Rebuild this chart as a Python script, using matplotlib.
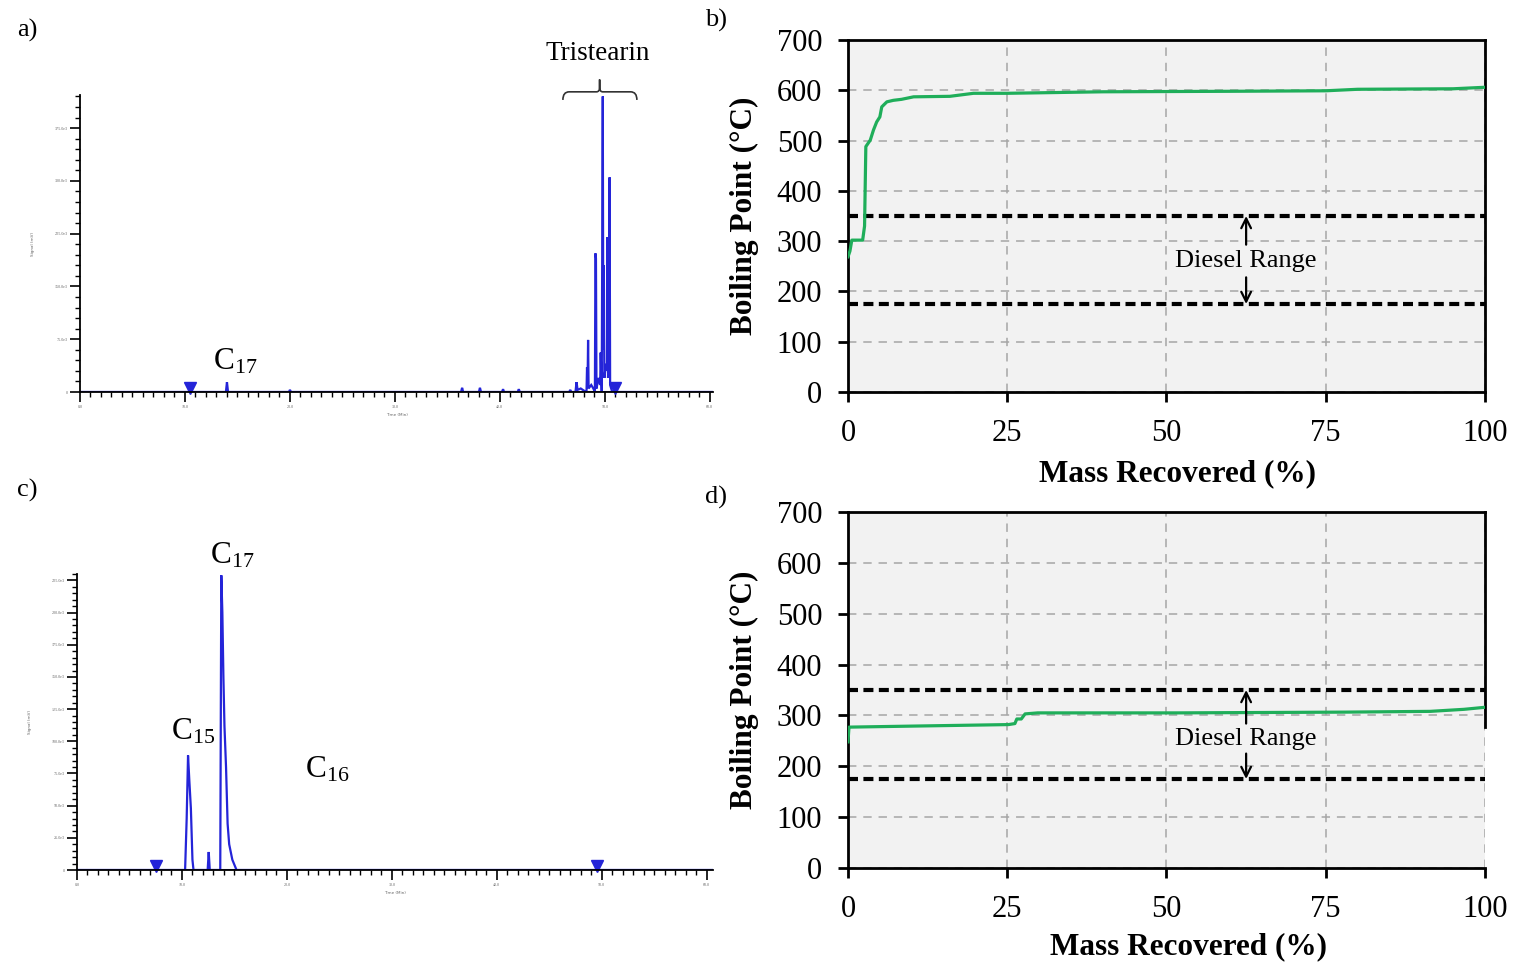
import matplotlib
matplotlib.use("Agg")
import matplotlib.pyplot as plt
from matplotlib.path import Path
from matplotlib.patches import PathPatch
from matplotlib.ticker import MultipleLocator, FuncFormatter

plt.rcParams["font.family"] = ["Liberation Serif", "DejaVu Serif"]
plt.rcParams["mathtext.fontset"] = "custom"
plt.rcParams["mathtext.rm"] = "Liberation Serif"
plt.rcParams["mathtext.it"] = "Liberation Serif:italic"

# ---------------- data ----------------
# a) GC trace of the feed (time in min, signal in thousands)
feed_time = [0, 13.9, 14.0, 14.1, 19.9, 20.0, 20.1, 36.3, 36.4, 36.5, 38.0, 38.1, 38.2,
             40.2, 40.3, 40.4, 41.7, 41.8, 41.9, 46.6, 46.7, 46.8, 47.2, 47.3, 47.4, 47.7,
             48.0, 48.25, 48.3, 48.35, 48.4, 48.45, 48.7, 48.9, 49.05, 49.1, 49.15, 49.2,
             49.4, 49.55, 49.6, 49.7, 49.8, 49.85, 49.9, 49.95, 50.1, 50.2, 50.25, 50.3,
             50.35, 50.45, 50.5, 50.7, 60.3]
feed_signal = [0, 0, 14, 0, 0, 3, 0, 0, 6, 0, 0, 6, 0,
               0, 4, 0, 0, 4, 0, 0, 3, 0, 0, 14, 3, 5,
               2, 0, 35, 10, 74, 5, 10, 5, 0, 197, 190, 5,
               20, 10, 56, 0, 420, 60, 180, 20, 40, 30, 220, 20,
               40, 305, 10, 0, 0]
feed_marks_t = [10.5, 51.0]

# c) GC trace of the product
prod_time = [0, 10.3, 10.45, 10.58, 10.7, 10.85, 11.0, 11.1, 12.45, 12.55, 12.65,
             13.65, 13.75, 13.85, 13.95, 14.05, 14.2, 14.35, 14.5, 14.8, 15.2, 60.6]
prod_signal = [0, 0, 40, 89, 70, 48, 8, 0, 0, 14, 0,
               0, 229, 200, 150, 112, 80, 36, 20, 8, 0, 0]
prod_marks_t = [7.5, 49.5]

# b) simulated distillation of the feed
feed_mass = [0.0, 0.3, 0.6, 2.3, 2.6, 2.8, 3.5, 4.0, 4.5, 5.0, 5.3, 6.1, 7.1, 8.4, 10.3,
             16.0, 19.7, 25.0, 40.0, 60.0, 75.0, 80.0, 95.0, 100.0]
feed_bp = [269, 280, 302, 302, 330, 488, 501, 521, 537, 547, 567, 577, 580, 582, 587,
           588, 594, 594, 597, 598, 599, 602, 603, 606]

# d) simulated distillation of the product
prod_mass = [0.0, 0.15, 10.0, 25.2, 26.2, 26.5, 27.2, 27.8, 29.8, 51.7, 78.0, 91.4, 96.7, 100.0]
prod_bp = [248, 277, 279, 282, 284, 293, 293, 303, 305, 305, 306.5, 308, 312, 316]

diesel_low, diesel_high = 175, 350
bp_ticks = [0, 100, 200, 300, 400, 500, 600, 700]
mass_ticks = [0, 25, 50, 75, 100]

W, H = 1518, 963
fig = plt.figure(figsize=(W / 100, H / 100), dpi=100)


def fpx(px, py):
    return px / W, 1 - py / H


BLUE = "#2424d8"
GREEN = "#1fae5a"


def chromatogram(rect, t, s, marks, xlim, ylim, ymaj, ymin, mark_y):
    ax = fig.add_axes(rect)
    ax.plot(t, s, color=BLUE, lw=1.6, solid_joinstyle="miter")
    ax.axhline(0, color="#1a1a9a", lw=2.2, zorder=1)
    ax.plot(marks, [mark_y] * len(marks), "v", color=BLUE, ms=8, clip_on=False)
    ax.set_xlim(*xlim)
    ax.set_ylim(*ylim)
    for side in ("top", "right"):
        ax.spines[side].set_visible(False)
    ax.spines["left"].set_linewidth(1.3)
    ax.spines["bottom"].set_linewidth(1.3)
    ax.xaxis.set_major_locator(MultipleLocator(10))
    ax.xaxis.set_minor_locator(MultipleLocator(1))
    ax.yaxis.set_major_locator(MultipleLocator(ymaj))
    ax.yaxis.set_minor_locator(MultipleLocator(ymin))
    ax.xaxis.set_major_formatter(FuncFormatter(lambda v, p: f"{v:.1f}"))
    ax.yaxis.set_major_formatter(FuncFormatter(lambda v, p: "0" if v == 0 else f"{v:.1f}e3"))
    ax.tick_params(which="major", length=7, width=1.2, labelsize=3, labelcolor="#666666", pad=2)
    ax.tick_params(which="minor", length=3.5, width=1.0)
    ax.set_xlabel("Time (Min)", fontsize=3, color="#666666", labelpad=3, family="DejaVu Sans")
    ax.set_ylabel("Signal (mV)", fontsize=3, color="#666666", labelpad=14, family="DejaVu Sans")
    ax.patch.set_alpha(0)
    return ax


ax_a = chromatogram([80 / W, 1 - 392 / H, 633 / W, 297 / H], feed_time, feed_signal,
                    feed_marks_t, (0, 60.3), (0, 422), 75, 15, 5.5)
ax_c = chromatogram([77 / W, 1 - 870 / H, 636 / W, 296 / H], prod_time, prod_signal,
                    prod_marks_t, (0, 60.6), (0, 230), 25, 5, 3.0)

# brace over the tristearin cluster
verts = [(46.0, 415), (46.0, 426.5), (46.6, 426.5), (49.2, 426.5), (49.5, 426.5),
         (49.5, 433), (49.5, 444), (49.5, 433), (49.5, 426.5), (49.8, 426.5),
         (52.45, 426.5), (53.05, 426.5), (53.05, 415)]
codes = [Path.MOVETO, Path.CURVE3, Path.CURVE3, Path.LINETO, Path.CURVE3, Path.CURVE3,
         Path.LINETO, Path.LINETO, Path.CURVE3, Path.CURVE3, Path.LINETO, Path.CURVE3, Path.CURVE3]
ax_a.add_patch(PathPatch(Path(verts, codes), fill=False, lw=1.2, ec="#333333", clip_on=False))

fig.text(*fpx(598, 53), "Tristearin", fontsize=19.5, ha="center", va="center")
fig.text(*fpx(235, 362), r"C$_{17}$", fontsize=22.5, ha="center", va="center")
fig.text(*fpx(232, 556), r"C$_{17}$", fontsize=22.5, ha="center", va="center")
fig.text(*fpx(193, 732), r"C$_{15}$", fontsize=22.5, ha="center", va="center")
fig.text(*fpx(327, 770), r"C$_{16}$", fontsize=22.5, ha="center", va="center")

for lab, (px, py) in zip(["a)", "b)", "c)", "d)"],
                         [(27, 30), (716, 20), (27, 490), (716, 497)]):
    fig.text(*fpx(px, py), lab, fontsize=19, ha="center", va="center")


def distillation(rect, mass, bp, text_y, up_from, down_from, xlabel_pos, cut_right=None):
    ax = fig.add_axes(rect)
    ax.set_facecolor("#f2f2f2")
    ax.set_xlim(0, 100)
    ax.set_ylim(0, 700)
    ax.set_xticks(mass_ticks)
    ax.set_yticks(bp_ticks)
    ax.grid(True, color="#a6a6a6", lw=1.1, linestyle=(0, (5.5, 4.5)))
    ax.set_axisbelow(True)
    for ln in (diesel_low, diesel_high):
        ax.axhline(ln, color="black", lw=3, linestyle=(0, (2.4, 1.3)), zorder=3)
    ax.plot(mass, bp, color=GREEN, lw=2.3, zorder=4)
    for sp in ax.spines.values():
        sp.set_linewidth(2)
    if cut_right is not None:
        ax.spines["right"].set_bounds(cut_right, 700)
    ax.tick_params(length=7, width=2, labelsize=22)
    ax.tick_params(axis="x", pad=12.5)
    ax.tick_params(axis="y", pad=11.5)
    ax.set_xlabel("Mass Recovered (%)", fontsize=22.5, fontweight="bold")
    ax.xaxis.set_label_coords(*xlabel_pos)
    ax.set_ylabel("Boiling Point (°C)", fontsize=22.5, fontweight="bold", labelpad=13)
    ax.text(62.5, text_y, "Diesel Range", fontsize=19, ha="center", va="center", zorder=5)
    arrow = dict(arrowstyle="->,head_length=0.7,head_width=0.35", lw=1.6, color="black",
                 shrinkA=0, shrinkB=0)
    ax.annotate("", xy=(62.5, diesel_high), xytext=(62.5, up_from), arrowprops=arrow, zorder=5)
    ax.annotate("", xy=(62.5, diesel_low), xytext=(62.5, down_from), arrowprops=arrow, zorder=5)
    return ax


distillation([848 / W, 1 - 392 / H, 637 / W, 352 / H], feed_mass, feed_bp, 260, 293, 228,
             (0.518, -0.19))
distillation([848 / W, 1 - 868 / H, 637 / W, 356 / H], prod_mass, prod_bp, 254, 284, 225,
             (0.535, -0.18), cut_right=278)

fig.savefig("out.png", dpi=100, facecolor="white")
